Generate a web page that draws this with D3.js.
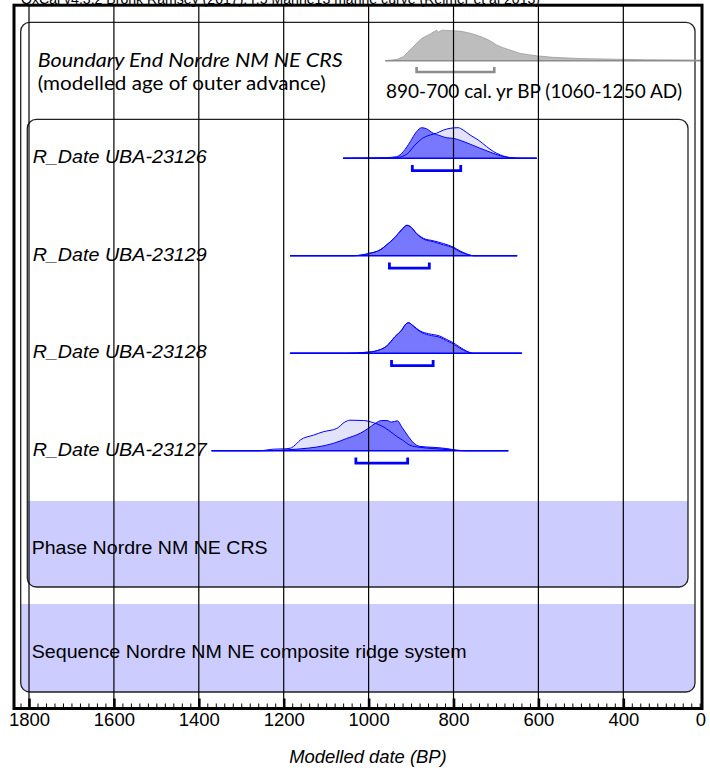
<!DOCTYPE html>
<html>
<head>
<meta charset="utf-8">
<script src="https://cdn.jsdelivr.net/npm/d3@7"></script>
<style>
  html, body { margin: 0; padding: 0; background: #fff; }
  svg { display: block; }
</style>
</head>
<body>
<svg id="chart" width="710" height="774"></svg>
<script>
// ---------------- DATA ----------------
const headerText = "OxCal v4.3.2 Bronk Ramsey (2017); r:5 Marine13 marine curve (Reimer et al 2013)";
const axisTitle = "Modelled date (BP)";
const majorTicks = [1800, 1600, 1400, 1200, 1000, 800, 600, 400];
const axisEndLabel = "0";

const boundaryLabel1 = "Boundary End Nordre NM NE CRS";
const boundaryLabel2 = "(modelled age of outer advance)";
const boundaryRangeText = "890-700 cal. yr BP (1060-1250 AD)";
const boundaryExtent = [961, 217];
const boundaryRange = [887, 704];
const boundaryDensity = [
  [961,0],[934,0.04],[918,0.13],[895,0.46],[875,0.73],[855,0.875],[845,0.96],[840,1.0],
  [836,0.93],[832,0.97],[826,1.0],[816,0.99],[800,0.98],[785,0.97],[770,0.93],[753,0.87],
  [738,0.8],[722,0.71],[710,0.62],[698,0.51],[682,0.42],[667,0.35],[643,0.24],[620,0.19],
  [604,0.16],[565,0.11],[502,0.07],[424,0.05],[345,0.03],[230,0.02],[217,0.02]
];

const dateLabels = ["R_Date UBA-23126", "R_Date UBA-23129", "R_Date UBA-23128", "R_Date UBA-23127"];
const dateExtents = [[1060, 604], [1185, 650], [1185, 639], [1370, 671]];
const dateRanges = [[897, 783], [951, 857], [946, 848], [1030, 908]];

const likelihood23126 = [[1060,0],[957,0],[934,0.02],[910,0.13],[891,0.43],[871,0.67],[855,0.76],[840,0.82],[824,0.92],[808,0.98],[789,1.0],[777,0.92],[761,0.76],[742,0.6],[722,0.38],[706,0.22],[690,0.11],[667,0.02],[643,0],[604,0]];
const posterior23126 = [[1060,0],[957,0.02],[934,0.05],[918,0.22],[902,0.54],[887,0.87],[875,1.0],[863,0.96],[848,0.82],[832,0.74],[816,0.67],[800,0.65],[781,0.57],[761,0.46],[738,0.33],[714,0.2],[690,0.08],[667,0.02],[643,0],[604,0]];

const likelihood23129 = [[1185,0],[1036,0],[997,0.08],[973,0.19],[957,0.36],[938,0.6],[922,0.85],[910,0.99],[901,0.95],[887,0.73],[871,0.57],[848,0.49],[824,0.4],[800,0.28],[785,0.16],[769,0.06],[753,0],[650,0]];
const posterior23129 = [[1185,0],[1036,0],[997,0.08],[973,0.19],[957,0.36],[938,0.6],[922,0.86],[910,1.0],[901,0.95],[887,0.72],[871,0.55],[848,0.46],[824,0.36],[800,0.25],[785,0.13],[769,0.05],[753,0],[650,0]];

const likelihood23128 = [[1185,0],[1052,0],[1005,0.03],[981,0.08],[957,0.24],[938,0.54],[922,0.76],[912,0.96],[906,1.0],[895,0.9],[879,0.73],[859,0.64],[832,0.56],[816,0.45],[804,0.37],[785,0.2],[769,0.07],[753,0],[639,0]];
const posterior23128 = [[1185,0],[1052,0],[1005,0.03],[981,0.08],[957,0.24],[938,0.54],[922,0.76],[912,0.96],[906,1.0],[895,0.89],[879,0.71],[859,0.6],[832,0.52],[816,0.41],[804,0.33],[785,0.16],[769,0.05],[753,0],[639,0]];

const likelihood23127 = [[1370,0],[1256,0],[1224,0.05],[1200,0.06],[1185,0.08],[1169,0.24],[1161,0.35],[1130,0.51],[1107,0.62],[1075,0.73],[1056,0.94],[1044,1.0],[1012,0.99],[989,0.92],[969,0.81],[950,0.64],[934,0.47],[918,0.33],[903,0.18],[879,0.11],[848,0.07],[800,0.02],[780,0],[671,0]];
const posterior23127 = [[1370,0],[1240,0],[1201,0.02],[1161,0.06],[1122,0.12],[1083,0.24],[1052,0.4],[1020,0.57],[1001,0.73],[985,0.89],[969,0.99],[957,0.99],[946,0.94],[932,0.98],[922,0.78],[910,0.54],[895,0.27],[879,0.14],[848,0.11],[816,0.07],[793,0.02],[770,0],[671,0]];

const likelihoods = [likelihood23126, likelihood23129, likelihood23128, likelihood23127];
const posteriors = [posterior23126, posterior23129, posterior23128, posterior23127];

const phaseLabel = "Phase Nordre NM NE CRS";
const sequenceLabel = "Sequence Nordre NM NE composite ridge system";

// ---------------- LAYOUT ----------------
const svg = d3.select("#chart");
const x = d3.scaleLinear().domain([1800, 217]).range([29, 701]);
const rowY = d3.scaleLinear().domain([0, 4]).range([60.7, 450.7]); // baselines
const hgt = d3.scaleLinear().domain([0, 1]).range([0, 30.5]);
const axisY = 708.5;

const BLUE = "#0000ff", DARK = "#7878ff", LIGHT = "#e2e2fa", LAV = "#ccccff";
const sans = "'Liberation Sans', Arial, Helvetica, sans-serif";
const hum = "Lato, 'Open Sans', sans-serif";

// Header (cut off at top)
svg.append("text").attr("x", 21).attr("y", 3.5)
  .attr("font-family", sans).attr("font-size", 14)
  .attr("textLength", 519).attr("lengthAdjust", "spacingAndGlyphs")
  .text(headerText);

// clip paths for bands
const defs = svg.append("defs");
const seqBox = {x: 20.7, y: 22.3, w: 674.3, h: 669.7};
const phBox = {x: 27.3, y: 119.3, w: 660.7, h: 467.7};
defs.append("clipPath").attr("id", "seqClip").append("rect")
  .attr("x", seqBox.x).attr("y", seqBox.y).attr("width", seqBox.w).attr("height", seqBox.h).attr("rx", 9);
defs.append("clipPath").attr("id", "phClip").append("rect")
  .attr("x", phBox.x).attr("y", phBox.y).attr("width", phBox.w).attr("height", phBox.h).attr("rx", 9);

svg.append("rect").attr("clip-path", "url(#seqClip)")
  .attr("x", seqBox.x).attr("y", 604).attr("width", seqBox.w).attr("height", 692 - 604).attr("fill", LAV);
svg.append("rect").attr("clip-path", "url(#phClip)")
  .attr("x", phBox.x).attr("y", 501).attr("width", phBox.w).attr("height", 587 - 501).attr("fill", LAV);

svg.append("rect").attr("x", seqBox.x).attr("y", seqBox.y).attr("width", seqBox.w).attr("height", seqBox.h)
  .attr("rx", 9).attr("fill", "none").attr("stroke", "#222").attr("stroke-width", 1.3);
svg.append("rect").attr("x", phBox.x).attr("y", phBox.y).attr("width", phBox.w).attr("height", phBox.h)
  .attr("rx", 9).attr("fill", "none").attr("stroke", "#222").attr("stroke-width", 1.3);

// ---------------- DISTRIBUTIONS ----------------
function areaFor(base) {
  return d3.area().x(d => x(d[0])).y0(base).y1(d => base - hgt(d[1])).curve(d3.curveMonotoneX);
}
function lineFor(base) {
  return d3.line().x(d => x(d[0])).y(d => base - hgt(d[1])).curve(d3.curveMonotoneX);
}
function bracket(g, range, base, color, top, bot, sw) {
  const p = d3.path();
  p.moveTo(x(range[0]), base + top);
  p.lineTo(x(range[0]), base + bot);
  p.lineTo(x(range[1]), base + bot);
  p.lineTo(x(range[1]), base + top);
  g.append("path").attr("d", p.toString()).attr("fill", "none")
    .attr("stroke", color).attr("stroke-width", sw);
}

// Boundary
{
  const base = rowY(0);
  const g = svg.append("g");
  g.append("path").datum(boundaryDensity).attr("d", areaFor(base).curve(d3.curveLinear))
    .attr("fill", "#bdbdbd");
  g.append("path").datum(boundaryDensity).attr("d", lineFor(base).curve(d3.curveLinear))
    .attr("fill", "none").attr("stroke", "#9a9a9a").attr("stroke-width", 0.8);
  g.append("line").attr("x1", x(boundaryExtent[0])).attr("x2", x(boundaryExtent[1]))
    .attr("y1", base).attr("y2", base).attr("stroke", "#8c8c8c").attr("stroke-width", 1.5);
  bracket(g, boundaryRange, base, "#8c8c8c", 6.3, 11.3, 2.6);
}

// R_Dates
dateLabels.forEach((lab, i) => {
  const base = rowY(i + 1);
  const g = svg.append("g");
  g.append("path").datum(likelihoods[i]).attr("d", areaFor(base)).attr("fill", LIGHT);
  g.append("path").datum(posteriors[i]).attr("d", areaFor(base)).attr("fill", DARK);
  g.append("path").datum(likelihoods[i]).attr("d", lineFor(base))
    .attr("fill", "none").attr("stroke", BLUE).attr("stroke-width", 1);
  g.append("path").datum(posteriors[i]).attr("d", lineFor(base))
    .attr("fill", "none").attr("stroke", BLUE).attr("stroke-width", 1);
  g.append("line").attr("x1", x(dateExtents[i][0])).attr("x2", x(dateExtents[i][1]))
    .attr("y1", base).attr("y2", base).attr("stroke", BLUE).attr("stroke-width", 1.6);
  bracket(g, dateRanges[i], base, BLUE, 6.8, 12.5, 2.8);
  svg.append("text").attr("x", 32.7).attr("y", base + 5)
    .attr("font-family", sans).attr("font-style", "italic").attr("font-size", 18.8)
    .attr("textLength", 174).attr("lengthAdjust", "spacingAndGlyphs")
    .text(lab);
});

// Boundary texts
svg.append("text").attr("x", 37.7).attr("y", 66.7)
  .attr("font-family", hum).attr("font-style", "italic").attr("font-size", 18.5)
  .attr("textLength", 305).attr("lengthAdjust", "spacingAndGlyphs").text(boundaryLabel1);
svg.append("text").attr("x", 37.7).attr("y", 90)
  .attr("font-family", hum).attr("font-size", 18.5)
  .attr("textLength", 288).attr("lengthAdjust", "spacingAndGlyphs").text(boundaryLabel2);
svg.append("text").attr("x", 386).attr("y", 98.3)
  .attr("font-family", hum).attr("font-size", 18.5)
  .attr("textLength", 296).attr("lengthAdjust", "spacingAndGlyphs").text(boundaryRangeText);

// Phase / Sequence labels
svg.append("text").attr("x", 31.7).attr("y", 554)
  .attr("font-family", sans).attr("font-size", 18.8)
  .attr("textLength", 236).attr("lengthAdjust", "spacingAndGlyphs").text(phaseLabel);
svg.append("text").attr("x", 31.7).attr("y", 658.3)
  .attr("font-family", sans).attr("font-size", 18.8)
  .attr("textLength", 435).attr("lengthAdjust", "spacingAndGlyphs").text(sequenceLabel);

// ---------------- GRID ----------------
svg.append("g").selectAll("line").data(majorTicks).join("line")
  .attr("x1", d => x(d)).attr("x2", d => x(d))
  .attr("y1", 5).attr("y2", axisY)
  .attr("stroke", "#000").attr("stroke-width", 1.2);

// ---------------- FRAME & AXIS ----------------
svg.append("rect").attr("x", 14).attr("y", 5.2).attr("width", 688).attr("height", axisY - 5.2)
  .attr("fill", "none").attr("stroke", "#000").attr("stroke-width", 3);

const minorTicks = d3.range(220, 1821, 20).filter(v => !majorTicks.includes(v));
const minorAxis = d3.axisBottom(x).tickValues(minorTicks).tickSizeInner(-4).tickSizeOuter(0).tickFormat("");
const gMinor = svg.append("g").attr("transform", `translate(0,${axisY - 1})`).call(minorAxis);
gMinor.select(".domain").remove();
gMinor.selectAll("line").attr("stroke", "#000").attr("stroke-width", 1);

const majorAxis = d3.axisBottom(x).tickValues(majorTicks).tickSizeInner(-9).tickSizeOuter(0).tickPadding(5)
  .tickFormat(d3.format("d"));
const gMajor = svg.append("g").attr("transform", `translate(0,${axisY - 1})`).call(majorAxis);
gMajor.select(".domain").remove();
gMajor.selectAll("line").attr("stroke", "#000").attr("stroke-width", 2.6);
gMajor.selectAll("text").attr("font-family", sans).attr("font-size", 18.5).attr("fill", "#000");

svg.append("text").attr("x", x(217)).attr("y", axisY + 17.5)
  .attr("text-anchor", "middle").attr("font-family", sans).attr("font-size", 18.5)
  .text(axisEndLabel);

svg.append("text").attr("x", 368).attr("y", 763)
  .attr("text-anchor", "middle").attr("font-family", sans).attr("font-style", "italic").attr("font-size", 18.4)
  .text(axisTitle);
</script>
</body>
</html>
